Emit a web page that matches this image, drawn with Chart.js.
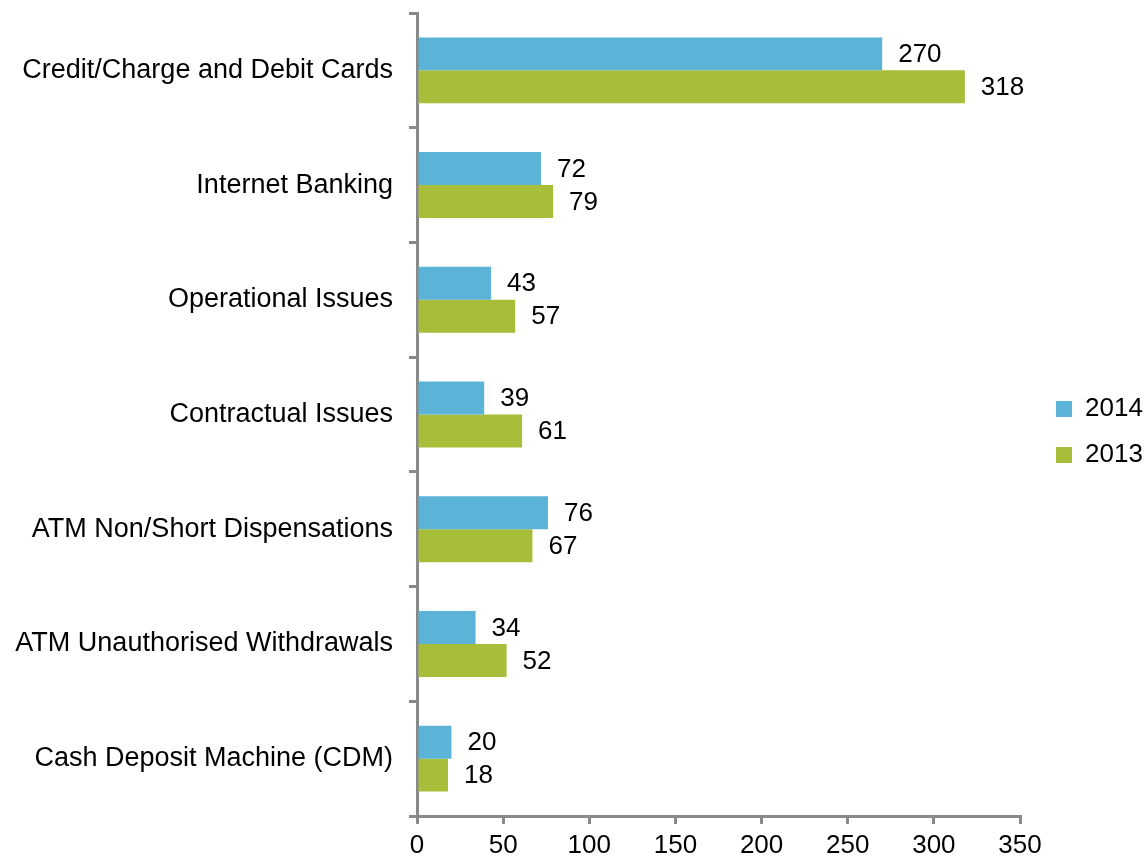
<!DOCTYPE html>
<html>
<head>
<meta charset="utf-8">
<script src="https://cdn.jsdelivr.net/npm/chart.js@4/dist/chart.umd.min.js"></script>
<style>
  html, body { margin: 0; padding: 0; background: #ffffff; }
  #wrap { width: 1148px; height: 859px; position: relative; }
</style>
</head>
<body>
<div id="wrap"><canvas id="c" width="1148" height="859"></canvas></div>
<script>
const categories = [
  "Credit/Charge and Debit Cards",
  "Internet Banking",
  "Operational Issues",
  "Contractual Issues",
  "ATM Non/Short Dispensations",
  "ATM Unauthorised Withdrawals",
  "Cash Deposit Machine (CDM)"
];
const values2014 = [270, 72, 43, 39, 76, 34, 20];
const values2013 = [318, 79, 57, 61, 67, 52, 18];
const seriesNames = ["2014", "2013"];
const xTicks = [0, 50, 100, 150, 200, 250, 300, 350];

const FONT = "'Liberation Sans', Arial, Helvetica, sans-serif";
const AXIS = "#898989";

const valueLabels = {
  id: "valueLabels",
  afterDatasetsDraw(chart) {
    const ctx = chart.ctx;
    ctx.save();
    ctx.font = "26px " + FONT;
    ctx.fillStyle = "#000000";
    ctx.textAlign = "left";
    ctx.textBaseline = "middle";
    chart.data.datasets.forEach((ds, i) => {
      const meta = chart.getDatasetMeta(i);
      meta.data.forEach((el, j) => {
        ctx.fillText(String(ds.data[j]), el.x + 16, el.y + 1);
      });
    });
    ctx.restore();
  }
};

// keep the legend column at a fixed width and offset
const legendPlacement = {
  id: "legendPlacement",
  afterInit(chart) {
    const lg = chart.legend;
    if (!lg) return;
    const orig = lg.fit.bind(lg);
    lg.fit = function () { orig(); if (!this.isHorizontal()) this.width = 128; };
  },
  afterLayout(chart) {
    const lg = chart.legend;
    if (!lg) return;
    lg.left += 16;
    lg.width -= 16;
    lg.top -= 8;
    lg.height += 8;
  }
};

new Chart(document.getElementById("c"), {
  type: "bar",
  data: {
    labels: categories,
    datasets: [
      { label: seriesNames[0], data: values2014, backgroundColor: "#5BB3D8", borderWidth: 0 },
      { label: seriesNames[1], data: values2013, backgroundColor: "#A8BD3A", borderWidth: 0 }
    ]
  },
  options: {
    indexAxis: "y",
    responsive: false,
    animation: false,
    devicePixelRatio: 1,
    layout: { padding: { top: 13, right: 0, bottom: 0, left: 0 } },
    datasets: { bar: { categoryPercentage: 0.575, barPercentage: 1.0 } },
    scales: {
      x: {
        type: "linear",
        min: 0,
        max: 350,
        afterBuildTicks(scale) { scale.ticks = xTicks.map(v => ({ value: v })); },
        ticks: { color: "#000000", font: { family: FONT, size: 26 }, padding: 6, maxRotation: 0 },
        grid: { display: true, drawOnChartArea: false, drawTicks: true, tickLength: 8, color: AXIS, lineWidth: 3 },
        border: { display: true, color: AXIS, width: 3 },
        afterFit(scale) { scale.height = 43; scale.paddingLeft = 0; scale.paddingRight = 0; }
      },
      y: {
        type: "category",
        offset: true,
        ticks: { color: "#000000", font: { family: FONT, size: 27 }, padding: 16 },
        grid: { display: true, offset: true, drawOnChartArea: false, drawTicks: true, tickLength: 8, color: AXIS, lineWidth: 3 },
        border: { display: true, color: AXIS, width: 3 },
        afterFit(scale) { scale.width = 417; scale.paddingTop = 0; scale.paddingBottom = 0; }
      }
    },
    plugins: {
      legend: {
        display: true,
        position: "right",
        align: "center",
        labels: {
          color: "#000000",
          font: { family: FONT, size: 26 },
          boxWidth: 16,
          boxHeight: 16,
          padding: 20
        }
      },
      tooltip: { enabled: false },
      title: { display: false }
    }
  },
  plugins: [valueLabels, legendPlacement]
});
</script>
</body>
</html>
